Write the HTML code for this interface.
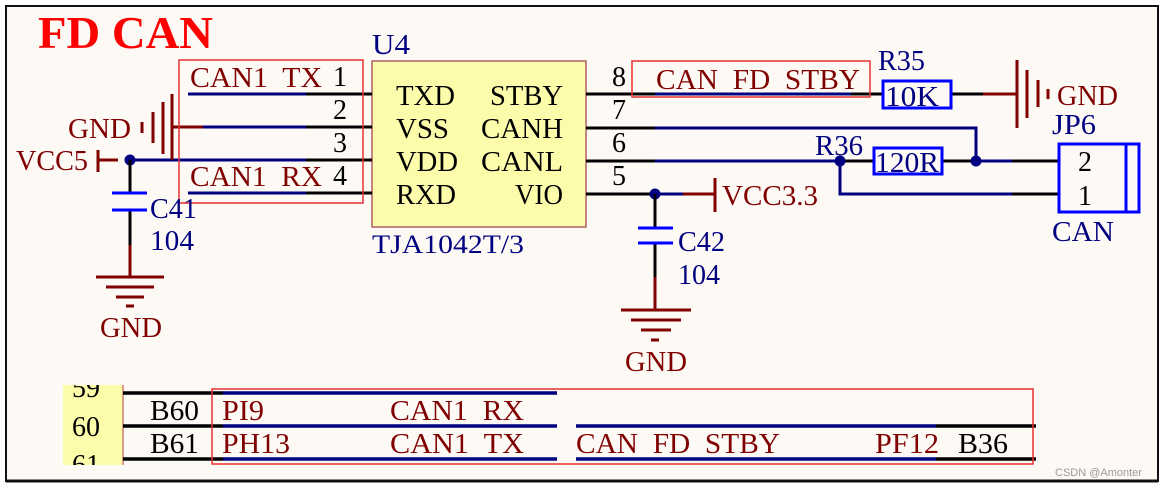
<!DOCTYPE html>
<html><head><meta charset="utf-8"><style>
html,body{margin:0;padding:0;background:#fff}
svg{display:block}
text{font-family:"Liberation Serif",serif;font-size:28px;white-space:pre}
.r{fill:#800000}.b{fill:#000080}.k{fill:#000}
</style></head><body>
<svg width="1165" height="488" viewBox="0 0 1165 488" xmlns="http://www.w3.org/2000/svg">
<defs><clipPath id="yc"><rect x="63" y="385" width="60" height="80"/></clipPath></defs>
<rect x="6" y="6" width="1152" height="475" fill="#fdfaf6" stroke="#111" stroke-width="2"/>
<line x1="6" y1="481" x2="1158" y2="481" stroke="#111" stroke-width="3"/>
<text x="38" y="48" style="font-size:46px;font-weight:bold" fill="#ff0000" textLength="175" lengthAdjust="spacingAndGlyphs">FD CAN</text>

<text x="372" y="54" class="b" textLength="38" lengthAdjust="spacingAndGlyphs">U4</text>
<rect x="372" y="61" width="214" height="166" fill="#fdfcaa" stroke="#b06060" stroke-width="1.5"/>
<text x="372" y="253" class="b" style="font-size:26px" textLength="152" lengthAdjust="spacingAndGlyphs">TJA1042T/3</text>
<g class="k">
<text x="396" y="105" textLength="59" lengthAdjust="spacingAndGlyphs">TXD</text>
<text x="396" y="138" textLength="53" lengthAdjust="spacingAndGlyphs">VSS</text>
<text x="396" y="171" textLength="62" lengthAdjust="spacingAndGlyphs">VDD</text>
<text x="396" y="204" textLength="60" lengthAdjust="spacingAndGlyphs">RXD</text>
<text x="490" y="105" textLength="73" lengthAdjust="spacingAndGlyphs">STBY</text>
<text x="481" y="138" textLength="82" lengthAdjust="spacingAndGlyphs">CANH</text>
<text x="481" y="171" textLength="82" lengthAdjust="spacingAndGlyphs">CANL</text>
<text x="515" y="204" textLength="48" lengthAdjust="spacingAndGlyphs">VIO</text>
<text x="333" y="86">1</text><text x="333" y="119">2</text><text x="333" y="152">3</text><text x="333" y="185">4</text>
<text x="612" y="86">8</text><text x="612" y="119">7</text><text x="612" y="152">6</text><text x="612" y="185">5</text>
</g>
<g stroke-width="3" fill="none">
<path d="M188 94H306M203 127H306M130 160H306M188 193H306" stroke="#000080"/>
<path d="M306 94H372M306 127H372M306 160H372M306 193H372" stroke="#000"/>
<path d="M172 127H203M98 160H118" stroke="#800000"/>
<path d="M586 94H655M586 128H655M586 161H655M586 194H655" stroke="#000"/>
<path d="M655 94H851M655 128H976V161M655 161H840M840 161V194H1012M976 161H1012M655 194H683" stroke="#000080"/>
<path d="M851 94H883M951 94H983M840 161H874M942 161H976M1012 161H1058M1012 194H1058" stroke="#000"/>
<path d="M983 94H1017M683 194H715" stroke="#800000"/>
</g>
<rect x="179" y="60" width="184" height="143" fill="none" stroke="#e83030" stroke-width="1.5"/>
<text x="190" y="87" class="r" textLength="132" lengthAdjust="spacingAndGlyphs">CAN1  TX</text>
<text x="190" y="186" class="r" textLength="132" lengthAdjust="spacingAndGlyphs">CAN1  RX</text>
<g stroke="#800000" stroke-width="3">
<line x1="142" y1="122" x2="142" y2="133"/><line x1="153" y1="112" x2="153" y2="143"/>
<line x1="163" y1="102" x2="163" y2="154"/><line x1="172" y1="94" x2="172" y2="160"/>
<line x1="98" y1="150" x2="98" y2="172"/>
</g>
<text x="68" y="138" class="r" textLength="63" lengthAdjust="spacingAndGlyphs">GND</text>
<text x="16" y="170" class="r" textLength="72" lengthAdjust="spacingAndGlyphs">VCC5</text>
<circle cx="130" cy="160" r="5.5" fill="#000080"/>
<path d="M130 160V193M130 210V245" stroke="#000" stroke-width="3"/>
<path d="M130 245V277" stroke="#800000" stroke-width="3"/>
<path d="M112 193H147M112 210H147" stroke="#0000ff" stroke-width="3"/>
<g stroke="#800000" stroke-width="3"><line x1="96" y1="277" x2="164" y2="277"/><line x1="106" y1="287" x2="154" y2="287"/><line x1="116" y1="297" x2="144" y2="297"/><line x1="126" y1="306" x2="134" y2="306"/></g>
<text x="150" y="218" class="b" textLength="47" lengthAdjust="spacingAndGlyphs">C41</text>
<text x="150" y="250" class="b" textLength="44" lengthAdjust="spacingAndGlyphs">104</text>
<text x="100" y="337" class="r" textLength="62" lengthAdjust="spacingAndGlyphs">GND</text>
<rect x="632" y="61" width="238" height="36" fill="none" stroke="#e83030" stroke-width="1.5"/>
<text x="656" y="89" class="r" textLength="204" lengthAdjust="spacingAndGlyphs">CAN  FD  STBY</text>
<text x="878" y="70" class="b" textLength="47" lengthAdjust="spacingAndGlyphs">R35</text>
<rect x="883" y="81" width="68" height="27" fill="#fdfaf6" stroke="#0000ff" stroke-width="3"/>
<text x="885" y="106" class="b" textLength="54" lengthAdjust="spacingAndGlyphs">10K</text>
<g stroke="#800000" stroke-width="3"><line x1="1017" y1="60" x2="1017" y2="128"/><line x1="1027" y1="70" x2="1027" y2="118"/><line x1="1038" y1="80" x2="1038" y2="107"/><line x1="1048" y1="89" x2="1048" y2="99"/></g>
<text x="1057" y="105" class="r" textLength="61" lengthAdjust="spacingAndGlyphs">GND</text>
<text x="815" y="155" class="b" textLength="48" lengthAdjust="spacingAndGlyphs">R36</text>
<rect x="874" y="148" width="68" height="26" fill="#fdfaf6" stroke="#0000ff" stroke-width="3"/>
<text x="875" y="172" class="b" textLength="64" lengthAdjust="spacingAndGlyphs">120R</text>
<circle cx="840" cy="161" r="5.5" fill="#000080"/><circle cx="976" cy="161" r="5.5" fill="#000080"/>
<text x="1052" y="134" class="b" textLength="44" lengthAdjust="spacingAndGlyphs">JP6</text>
<rect x="1059" y="144" width="80" height="68" fill="none" stroke="#0000ff" stroke-width="3"/>
<line x1="1126" y1="144" x2="1126" y2="212" stroke="#0000ff" stroke-width="3"/>
<text x="1078" y="171" class="k">2</text><text x="1078" y="205" class="k">1</text>
<text x="1052" y="241" class="b" textLength="62" lengthAdjust="spacingAndGlyphs">CAN</text>
<circle cx="655" cy="194" r="5.5" fill="#000080"/>
<line x1="715" y1="178" x2="715" y2="212" stroke="#800000" stroke-width="3"/>
<text x="722" y="205" class="r" textLength="96" lengthAdjust="spacingAndGlyphs">VCC3.3</text>
<path d="M655 194V228M655 243V277" stroke="#000" stroke-width="3"/>
<path d="M655 277V310" stroke="#800000" stroke-width="3"/>
<path d="M638 228H673M638 243H673" stroke="#0000ff" stroke-width="3"/>
<g stroke="#800000" stroke-width="3"><line x1="621" y1="310" x2="691" y2="310"/><line x1="631" y1="320" x2="681" y2="320"/><line x1="641" y1="330" x2="671" y2="330"/><line x1="651" y1="340" x2="659" y2="340"/></g>
<text x="678" y="251" class="b" textLength="47" lengthAdjust="spacingAndGlyphs">C42</text>
<text x="678" y="284" class="b" textLength="42" lengthAdjust="spacingAndGlyphs">104</text>
<text x="625" y="371" class="r" textLength="62" lengthAdjust="spacingAndGlyphs">GND</text>
<rect x="63" y="385" width="60" height="80" fill="#fdfcaa"/>
<line x1="123" y1="385" x2="123" y2="465" stroke="#c04040" stroke-width="1"/>
<g class="k" clip-path="url(#yc)">
<text x="72" y="397">59</text><text x="72" y="436">60</text><text x="72" y="474">61</text>
</g>
<g class="k">
<text x="150" y="420" textLength="49" lengthAdjust="spacingAndGlyphs">B60</text>
<text x="150" y="453" textLength="49" lengthAdjust="spacingAndGlyphs">B61</text>
<text x="958" y="453" textLength="50" lengthAdjust="spacingAndGlyphs">B36</text>
</g>
<g stroke-width="3.5">
<path d="M123 393H223M123 426H223M123 459H223M936 426H1036M936 459H1036" stroke="#000"/>
<path d="M223 393H557M223 426H557M223 459H557M576 426H936M576 459H936" stroke="#000080"/>
</g>
<rect x="212" y="389" width="821" height="75" fill="none" stroke="#e83030" stroke-width="1.5"/>
<g class="r">
<text x="222" y="420" textLength="42" lengthAdjust="spacingAndGlyphs">PI9</text>
<text x="390" y="420" textLength="134" lengthAdjust="spacingAndGlyphs">CAN1  RX</text>
<text x="222" y="453" textLength="68" lengthAdjust="spacingAndGlyphs">PH13</text>
<text x="390" y="453" textLength="134" lengthAdjust="spacingAndGlyphs">CAN1  TX</text>
<text x="576" y="453" textLength="204" lengthAdjust="spacingAndGlyphs">CAN  FD  STBY</text>
<text x="875" y="453" textLength="64" lengthAdjust="spacingAndGlyphs">PF12</text>
</g>
<text x="1055" y="476" style="font-family:'Liberation Sans',sans-serif;font-size:11px" fill="#999">CSDN @Amonter</text>
</svg>
</body></html>
